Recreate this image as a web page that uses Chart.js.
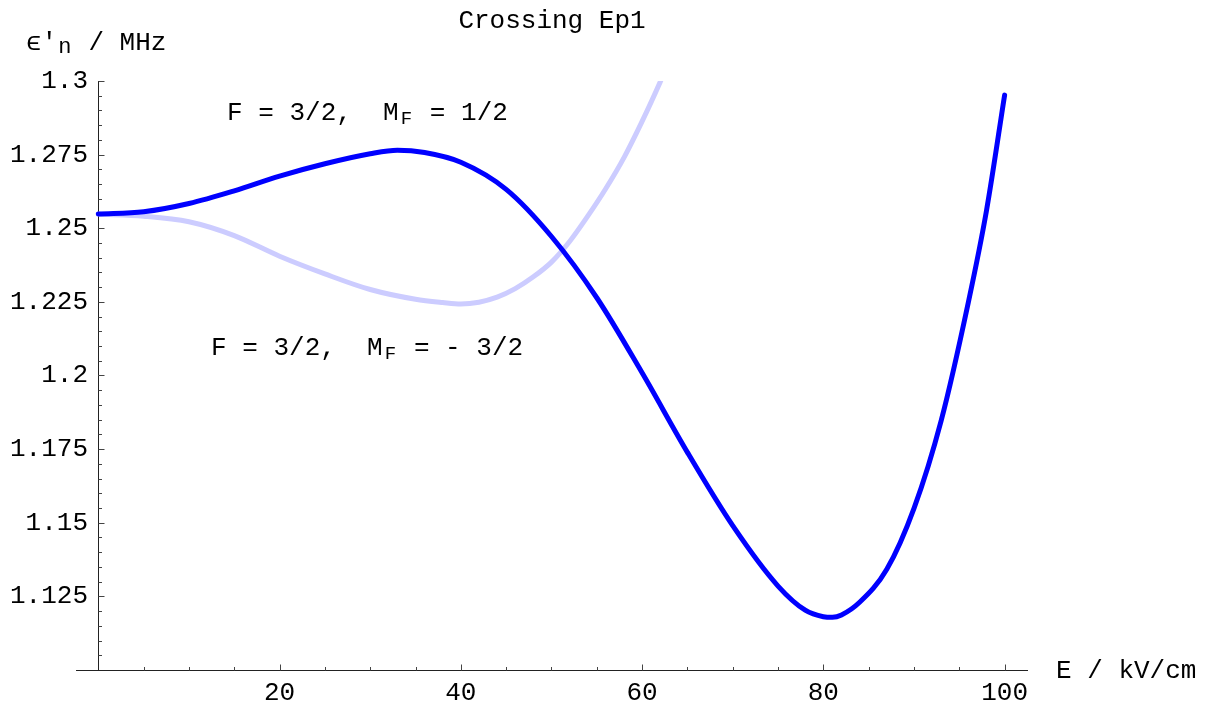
<!DOCTYPE html>
<html>
<head>
<meta charset="utf-8">
<title>Crossing Ep1</title>
<script src="https://cdn.jsdelivr.net/npm/chart.js@4/dist/chart.umd.min.js"></script>
<style>
  html, body { margin: 0; padding: 0; background: #fff; }
  canvas { display: block; }
</style>
</head>
<body>
<canvas id="crossing" width="1212" height="704"></canvas>
<script>
// field strength (kV/cm) and level shift (MHz)
const eField = [0, 5, 10, 15, 20, 25, 30, 33, 36, 40, 45, 50, 55, 60, 65, 70, 75, 78, 80, 81, 82, 84, 87, 90, 93, 96, 98, 100];
const shiftHalf = [1.2548, 1.2556, 1.2584, 1.2627, 1.2677, 1.2719, 1.2753, 1.2765, 1.2757, 1.2724, 1.2632, 1.2472, 1.2264, 1.2009, 1.1739, 1.1490, 1.1285, 1.1203, 1.1181, 1.1179, 1.1187, 1.1230, 1.1342, 1.1549, 1.1847, 1.2249, 1.2560, 1.2952];

const eFieldLow = [0, 5, 10, 15, 20, 25, 30, 35, 38, 40, 42, 44, 46, 48, 50, 52, 54, 56, 58, 60, 62, 62.5];
const shiftMinus = [1.2548, 1.2541, 1.2522, 1.2475, 1.2405, 1.2345, 1.2292, 1.2259, 1.2248, 1.2243, 1.2249, 1.2266, 1.2295, 1.2335, 1.2385, 1.2455, 1.2541, 1.2635, 1.2740, 1.2863, 1.2997, 1.3033];

const xTicks = [20, 40, 60, 80, 100];
const xTickLabels = ["20", "40", "60", "80", "100"];
const yTicks = [1.125, 1.15, 1.175, 1.2, 1.225, 1.25, 1.275, 1.3];
const yTickLabels = ["1.125", "1.15", "1.175", "1.2", "1.225", "1.25", "1.275", "1.3"];

const FONT = '"Liberation Mono", "DejaVu Sans Mono", monospace';
const AXIS_START = -2.46; // x axis line runs a little left of E = 0

// text in the plot: [main, subscript, rest] at data coords of the first letter
const curveLabels = [
  { x: 14.2, y: 1.28675, parts: ["F = 3/2,  M", "F", " = 1/2"] },
  { x: 12.44, y: 1.2069, parts: ["F = 3/2,  M", "F", " = - 3/2"] },
];

function toPoints(xs, ys) {
  return xs.map((x, i) => ({ x: x, y: ys[i] }));
}

// draw a string in mono cells: main text, a lowered smaller subscript, then the rest
function drawSubText(ctx, x, y, parts, subShift) {
  ctx.font = "26px " + FONT;
  const cw = ctx.measureText("M").width;
  let cx = x;
  ctx.fillText(parts[0], cx, y);
  cx += cw * parts[0].length;
  ctx.font = "19px " + FONT;
  ctx.fillText(parts[1], cx + 2, y + subShift);
  cx += cw * parts[1].length;
  ctx.font = "26px " + FONT;
  ctx.fillText(parts[2], cx, y);
}

const mathAxes = {
  id: "mathAxes",
  beforeDatasetsDraw(chart) {
    const { ctx, chartArea } = chart;
    const xs = chart.scales.x, ys = chart.scales.y;
    const x0 = Math.round(xs.getPixelForValue(0)) + 0.5;
    const yb = Math.round(chartArea.bottom) + 0.5;
    ctx.save();
    ctx.strokeStyle = "#222";
    ctx.lineWidth = 1;
    ctx.beginPath();
    ctx.moveTo(xs.getPixelForValue(AXIS_START), yb);
    ctx.lineTo(chartArea.right, yb);
    ctx.moveTo(x0, ys.getPixelForValue(1.3));
    ctx.lineTo(x0, yb);
    ctx.stroke();

    // tick marks point into the plot, minor every 5 kV/cm and every 0.005 MHz
    ctx.strokeStyle = "#444";
    ctx.beginPath();
    for (let i = 1; i <= 20; i++) {
      const px = Math.round(xs.getPixelForValue(i * 5)) + 0.5;
      const len = i % 4 === 0 ? 6 : 3.5;
      ctx.moveTo(px, yb);
      ctx.lineTo(px, yb - len);
    }
    for (let i = 1; i <= 40; i++) {
      const py = Math.round(ys.getPixelForValue(1.1 + i * 0.005)) + 0.5;
      const len = i % 5 === 0 ? 6 : 3.5;
      ctx.moveTo(x0, py);
      ctx.lineTo(x0 + len, py);
    }
    ctx.stroke();
    ctx.restore();
  },
  afterDraw(chart) {
    const { ctx, chartArea } = chart;
    const xs = chart.scales.x, ys = chart.scales.y;
    ctx.save();
    ctx.fillStyle = "#000";
    ctx.textBaseline = "alphabetic";

    ctx.font = "26px " + FONT;
    ctx.textAlign = "center";
    const mid = (xs.getPixelForValue(AXIS_START) + chartArea.right) / 2;
    ctx.fillText("Crossing Ep1", mid, 28);

    ctx.textAlign = "left";
    ctx.fillText("E / kV/cm", 1056, 678);

    // y axis title with subscript n
    ctx.font = "26px " + FONT;
    const cw = ctx.measureText("M").width;
    ctx.fillText("\u03f5'", 26, 50);
    ctx.font = "22px " + FONT;
    ctx.fillText("n", 26 + cw * 2 + 1, 53);
    ctx.font = "26px " + FONT;
    ctx.fillText(" / MHz", 26 + cw * 3, 50);

    curveLabels.forEach((lab) => {
      drawSubText(ctx, xs.getPixelForValue(lab.x), ys.getPixelForValue(lab.y), lab.parts, 4);
    });
    ctx.restore();
  },
};

new Chart(document.getElementById("crossing"), {
  type: "line",
  data: {
    datasets: [
      {
        label: "F = 3/2, MF = 1/2",
        data: toPoints(eField, shiftHalf),
        borderColor: "#0000ff",
        borderWidth: 5,
        borderCapStyle: "round",
        cubicInterpolationMode: "monotone",
        pointRadius: 0,
        clip: 0,
      },
      {
        label: "F = 3/2, MF = -3/2",
        data: toPoints(eFieldLow, shiftMinus),
        borderColor: "#ccccff",
        borderWidth: 5,
        borderCapStyle: "butt",
        cubicInterpolationMode: "monotone",
        pointRadius: 0,
        clip: 0,
      },
    ],
  },
  options: {
    responsive: false,
    animation: false,
    devicePixelRatio: 1,
    layout: { padding: { top: 81, right: 184, left: 0, bottom: 0 } },
    plugins: { legend: { display: false }, tooltip: { enabled: false }, title: { display: false } },
    scales: {
      x: {
        type: "linear",
        min: -1.14,
        max: 102.58,
        grid: { display: false },
        border: { display: false },
        afterBuildTicks: (scale) => { scale.ticks = xTicks.map((v) => ({ value: v })); },
        afterFit: (scale) => { scale.height = 34; },
        ticks: {
          color: "#000",
          font: { family: FONT, size: 26 },
          padding: 0,
          maxRotation: 0,
          callback: (v, i) => xTickLabels[i],
        },
      },
      y: {
        type: "linear",
        min: 1.1,
        max: 1.3,
        grid: { display: false, drawTicks: false },
        border: { display: false },
        afterBuildTicks: (scale) => { scale.ticks = yTicks.map((v) => ({ value: v })); },
        afterFit: (scale) => { scale.width = 88; },
        ticks: {
          color: "#000",
          font: { family: FONT, size: 26 },
          padding: 0,
          callback: (v, i) => yTickLabels[i],
        },
      },
    },
  },
  plugins: [mathAxes],
});
</script>
</body>
</html>
